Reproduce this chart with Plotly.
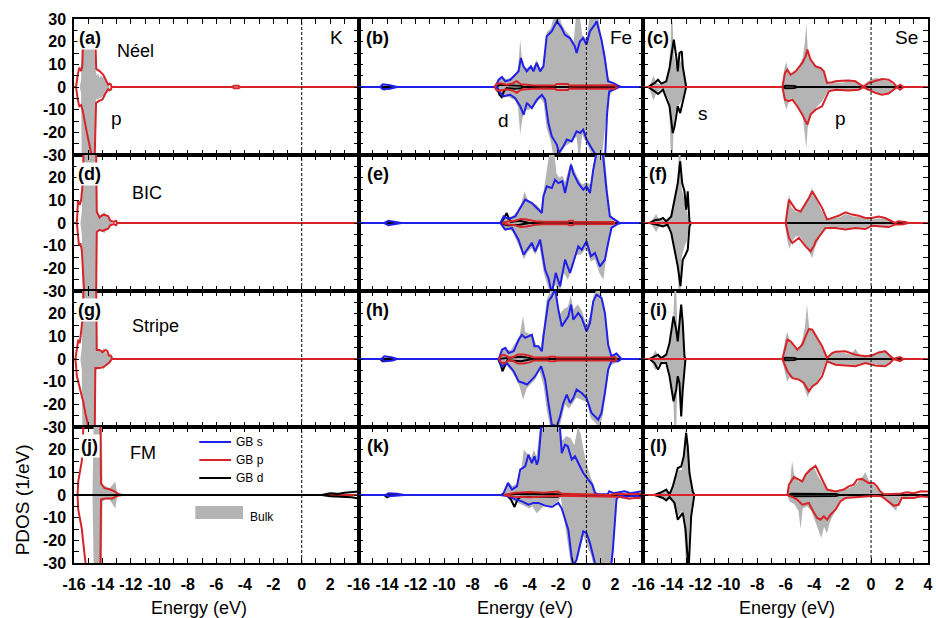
import plotly.graph_objects as go
from plotly.subplots import make_subplots

# ---------------------------------------------------------------------------
# PDOS data, (energy in eV, states/eV) pairs; spin-up positive, spin-down negative
# ---------------------------------------------------------------------------

# ---- (a) K, Neel ----
a_bulk_up = [(-16,0),(-15.6,0),(-15.5,3),(-15.45,22),(-14.6,22),(-14.5,8),(-14.4,5),(-14.3,6),(-14.2,4),(-14.1,5.5),(-14.0,4),(-13.9,5),(-13.8,3),(-13.7,2),(-13.6,1),(-13.5,0),(4,0)]
a_bulk_dn = [(-16,0),(-15.6,0),(-15.5,-3),(-15.45,-40),(-14.6,-40),(-14.5,-7),(-14.4,-5),(-14.3,-6),(-14.2,-4.5),(-14.1,-5),(-14.0,-4),(-13.9,-5),(-13.8,-3),(-13.7,-2),(-13.6,-1),(-13.5,0),(4,0)]
a_p_up = [(-16,0),(-15.86,0),(-15.72,6),(-15.63,8.5),(-15.5,7),(-15.42,9),(-15.35,22),(-14.6,22),(-14.5,22),(-14.44,8),(-14.3,7.5),(-14.2,7),(-13.95,5.5),(-13.77,3),(-13.6,1),(-13.5,1.5),(-13.42,1.2),(-13.35,0),(-4.9,0),(-4.75,0.6),(-4.45,0.6),(-4.3,0),(4,0)]
a_p_dn = [(-16,0),(-15.86,0),(-15.72,-6),(-15.63,-8.5),(-15.5,-8),(-15.4,-10),(-15.1,-20),(-14.8,-31),(-14.6,-35),(-14.55,-32),(-14.45,-7),(-14.2,-6),(-14.0,-5.5),(-13.8,-3),(-13.6,-1),(-13.5,-1.5),(-13.42,-1.2),(-13.35,0),(-4.9,0),(-4.75,-0.6),(-4.45,-0.6),(-4.3,0),(4,0)]

# ---- (d) K, BIC ----
d_bulk_up = [(-16,0),(-15.55,0),(-15.45,5),(-15.35,40),(-14.5,40),(-14.42,5),(-14.2,3),(-14.0,4),(-13.85,5),(-13.75,3),(-13.6,2),(-13.4,1),(-13.3,0),(4,0)]
d_bulk_dn = [(-16,0),(-15.55,0),(-15.45,-5),(-15.35,-40),(-14.5,-40),(-14.42,-5),(-14.2,-3),(-14.0,-4),(-13.85,-4.5),(-13.75,-3),(-13.6,-2),(-13.4,-1),(-13.3,0),(4,0)]
d_p_up = [(-16,0),(-15.8,0),(-15.72,10),(-15.6,8),(-15.5,10),(-15.4,17),(-15.3,36),(-14.45,36),(-14.4,5),(-14.2,2.5),(-14.0,3.5),(-13.8,3.5),(-13.6,3),(-13.45,1),(-13.2,0.5),(-13.05,1),(-12.95,0),(4,0)]
d_p_dn = [(-16,0),(-15.8,0),(-15.65,-10),(-15.55,-9),(-15.45,-12),(-15.35,-20),(-15.25,-35),(-14.45,-35),(-14.4,-4),(-14.2,-3),(-14.0,-3.5),(-13.8,-3),(-13.6,-2.5),(-13.45,-1),(-13.2,-0.5),(-13.05,-1),(-12.95,0),(4,0)]

# ---- (g) K, Stripe ----
g_bulk_up = [(-16,0),(-15.55,0),(-15.45,5),(-15.4,40),(-14.5,40),(-14.45,5),(-14.3,4),(-14.1,3),(-13.95,5),(-13.85,3),(-13.7,3),(-13.55,2),(-13.4,1),(-13.3,0),(4,0)]
g_bulk_dn = [(-16,0),(-15.55,0),(-15.45,-5),(-15.4,-40),(-14.5,-40),(-14.45,-5),(-14.3,-4),(-14.1,-3),(-13.95,-5),(-13.85,-3),(-13.7,-3),(-13.55,-2),(-13.4,-1),(-13.3,0),(4,0)]
g_p_up = [(-16,0),(-15.9,0),(-15.7,8.5),(-15.6,7),(-15.5,12),(-15.4,18),(-15.3,36),(-14.45,36),(-14.4,4),(-14.2,4),(-14.0,3),(-13.8,4),(-13.65,3.5),(-13.55,1.5),(-13.42,1.5),(-13.3,0),(4,0)]
g_p_dn = [(-16,0),(-15.9,0),(-15.8,-7.5),(-15.7,-10),(-15.55,-15),(-15.35,-19),(-15.2,-24),(-15.05,-28),(-14.9,-35),(-14.55,-35),(-14.5,-4),(-14.2,-4),(-13.9,-3.5),(-13.7,-2.5),(-13.5,-1.5),(-13.35,0),(4,0)]

# ---- (j) K, FM ----
j_bulk_up = [(-16,0),(-14.7,0),(-14.6,40),(-14.05,40),(-14.0,4),(-13.8,4),(-13.5,3),(-13.2,5),(-13.1,6),(-13.0,2),(-12.85,0),(4,0)]
j_bulk_dn = [(-16,0),(-14.7,0),(-14.6,-40),(-14.05,-40),(-14.0,-3),(-13.8,-2),(-13.5,-2),(-13.2,-5),(-13.1,-6),(-13.0,-2),(-12.85,0),(4,0)]
j_p_up = [(-16,0),(-15.75,0),(-15.7,6),(-15.55,11),(-15.45,15),(-15.4,22),(-15.3,35),(-14.15,35),(-14.1,5),(-13.85,3),(-13.5,2.5),(-13.15,1.6),(-12.9,0.5),(-12.6,0),(4,0)]
j_p_dn = [(-16,0),(-15.75,0),(-15.7,-6.5),(-15.55,-11),(-15.45,-15),(-15.35,-21),(-15.25,-26),(-15.1,-35),(-14.15,-35),(-14.1,-2),(-13.8,-1.5),(-13.3,-1.5),(-12.95,-0.3),(-12.6,0),(4,0)]
j_d_up = [(-16,0),(1.4,0),(2.0,0.8),(2.5,0.5),(3.0,1.0),(3.5,1.2),(4,1.5)]
j_d_dn = [(-16,0),(1.4,0),(2.0,-0.5),(3.0,-0.8),(3.5,-1.0),(4,-1.5)]

# ---- (b) Fe, Neel ----
b_bulk_up = [(-16,0),(-14.5,0),(-14.3,1),(-13.8,1),(-13.3,0),(-6.45,0),(-6.2,3),(-5.9,4),(-5.6,3.5),(-5.3,4),(-5.0,6),(-4.8,8),(-4.65,21),(-4.5,10),(-4.3,8),(-4.0,9),(-3.7,9),(-3.5,12),(-3.25,8),(-3.0,10),(-2.8,24),(-2.5,26),(-2.25,32),(-2.0,34),(-1.75,28),(-1.5,25),(-1.2,23),(-0.9,20),(-0.7,33),(-0.5,33),(-0.3,23),(0.0,21),(0.25,32),(0.5,33),(0.8,32),(1.05,22),(1.3,15),(1.55,4),(1.8,2),(2.2,0.5),(2.4,0),(4,0)]
b_bulk_dn = [(-16,0),(-14.5,0),(-14.3,-1),(-13.8,-1),(-13.3,0),(-6.45,0),(-6.2,-3),(-5.9,-4),(-5.6,-4),(-5.3,-5),(-5.0,-6),(-4.8,-9),(-4.65,-21),(-4.5,-14),(-4.3,-10),(-4.0,-10),(-3.7,-8),(-3.5,-7),(-3.25,-5),(-3.0,-7),(-2.8,-18),(-2.5,-24),(-2.25,-33),(-2.0,-33),(-1.75,-28),(-1.5,-26),(-1.2,-25),(-0.9,-23),(-0.7,-22),(-0.5,-33),(-0.3,-21),(0.0,-25),(0.25,-28),(0.5,-33),(0.8,-34),(1.05,-33),(1.3,-20),(1.55,-5),(1.8,-2),(2.2,-0.5),(2.4,0),(4,0)]
b_s_up = [(-16,0),(-14.5,0),(-14.3,1.2),(-13.8,0.8),(-13.3,0),(-6.4,0),(-6.16,3.2),(-5.93,4.4),(-5.7,2.5),(-5.35,3.2),(-5.0,5.4),(-4.77,6.9),(-4.6,12.8),(-4.42,9.1),(-4.19,6.9),(-3.9,9.1),(-3.72,6.9),(-3.49,10.6),(-3.25,6.9),(-3.02,9.1),(-2.79,22.4),(-2.67,23),(-2.44,24.5),(-2.07,29),(-1.74,26),(-1.51,23),(-1.16,21.6),(-0.81,17.9),(-0.69,15),(-0.46,20.1),(-0.23,21.6),(0.01,18.7),(0.24,24.5),(0.59,27.5),(0.72,29),(1.06,20.9),(1.29,12.8),(1.52,2.5),(1.87,1.8),(2.22,0.6),(2.46,0),(4,0)]
b_s_dn = [(-16,0),(-14.5,0),(-14.3,-1),(-13.8,-0.8),(-13.3,0),(-6.28,0),(-6.05,-2.6),(-5.81,-4.1),(-5.35,-3.4),(-5.0,-4.9),(-4.65,-8.5),(-4.41,-12.2),(-4.18,-7),(-3.83,-9.3),(-3.48,-5.6),(-3.13,-3.4),(-2.9,-5.6),(-2.67,-15.9),(-2.43,-21.8),(-2.08,-25.4),(-1.92,-29.1),(-1.62,-26.2),(-1.38,-23.2),(-1.03,-24),(-0.69,-19.6),(-0.45,-20.3),(-0.22,-18.8),(0.01,-23.2),(0.36,-26.9),(0.71,-30.6),(0.95,-33),(1.3,-33),(1.45,-12),(1.6,-2),(2.0,-1),(2.3,0),(4,0)]
b_p_up = [(-6.45,0),(-6.3,1.5),(-6.0,1.5),(-5.6,1),(-5.2,1.5),(-4.9,2.6),(-4.6,1.2),(-4.3,1),(-3.8,0.8),(-3.0,0.7),(-2.2,0.8),(-2.1,1.3),(-1.3,1.3),(-1.2,0.7),(1.0,0.7),(1.8,0.6),(2.0,0.8),(2.15,0)]
b_p_dn = [(-6.45,0),(-6.3,-1.5),(-6.0,-1.5),(-5.6,-1),(-5.2,-1.5),(-4.9,-2.6),(-4.6,-1.2),(-4.3,-1),(-3.8,-0.8),(-3.0,-0.7),(-2.2,-0.8),(-2.1,-1.3),(-1.3,-1.3),(-1.2,-0.7),(1.0,-0.7),(1.8,-0.6),(2.0,-0.8),(2.15,0)]
b_d_up = [(-16,0),(-6.3,0),(-6.1,1),(-5.0,0.8),(-4.6,0.5),(-4.4,0),(4,0)]
b_d_dn = [(-16,0),(-14.4,0),(-14.2,-1),(-13.9,0),(-6.3,0),(-6.1,-3.5),(-5.95,-4.5),(-5.8,-2),(-5.6,-0.5),(-5.0,-0.8),(-4.6,-0.5),(-4.4,0),(4,0)]

# ---- (e) Fe, BIC ----
e_bulk_up = [(-16,0),(-14.2,0),(-14.0,1),(-13.4,0.8),(-13.1,0),(-6.1,0),(-5.8,3),(-5.5,2.5),(-5.2,3),(-4.9,5),(-4.6,8),(-4.35,14),(-4.1,10),(-3.8,9),(-3.5,8),(-3.2,6),(-3.0,14),(-2.8,20),(-2.55,33),(-2.3,33),(-2.1,22),(-1.9,20),(-1.7,21),(-1.5,18),(-1.3,23),(-1.1,27),(-0.9,24),(-0.6,20),(-0.3,17),(0.0,18),(0.3,17),(0.5,26),(0.75,33),(1.0,34),(1.25,32),(1.45,18),(1.65,4),(2.0,1.5),(2.4,0),(4,0)]
e_bulk_dn = [(-16,0),(-14.2,0),(-14.0,-1),(-13.4,-0.8),(-13.1,0),(-6.1,0),(-5.8,-3),(-5.5,-3),(-5.2,-3.5),(-4.9,-8),(-4.6,-12),(-4.4,-16),(-4.15,-13),(-3.85,-11),(-3.6,-14),(-3.3,-10),(-3.0,-22),(-2.75,-27),(-2.5,-33),(-2.2,-27),(-1.9,-32),(-1.6,-22),(-1.3,-25),(-1.0,-20),(-0.7,-14),(-0.4,-14),(0.0,-11),(0.3,-17),(0.6,-16),(0.9,-22),(1.2,-25),(1.45,-12),(1.7,-3),(2.0,-1),(2.4,0),(4,0)]
e_s_up = [(-16,0),(-14.2,0),(-13.9,1),(-13.4,0.6),(-13.0,0),(-6.05,0),(-5.81,2.9),(-5.46,1.8),(-5.0,2.9),(-4.65,6.6),(-4.3,10.3),(-3.83,8.8),(-3.48,6.6),(-3.13,4.4),(-3.02,11.8),(-2.78,16.2),(-2.43,15.4),(-2.2,19.1),(-1.97,17.6),(-1.69,18.4),(-1.5,13.2),(-1.27,20.6),(-1.08,25.7),(-0.92,22),(-0.57,17.6),(-0.22,14.7),(0.01,16.2),(0.25,13.2),(0.48,23.5),(0.71,30.9),(0.95,33),(1.18,29.4),(1.41,14.7),(1.65,2.9),(2.0,1.5),(2.35,0),(4,0)]
e_s_dn = [(-16,0),(-14.2,0),(-13.9,-1),(-13.4,-0.6),(-13.0,0),(-6.05,0),(-5.7,-2.9),(-5.23,-2.2),(-4.77,-7.4),(-4.42,-14),(-4.18,-11.8),(-3.83,-8.8),(-3.6,-12.5),(-3.25,-7.4),(-2.9,-20.6),(-2.67,-24.3),(-2.43,-31),(-2.15,-22),(-1.85,-27.9),(-1.5,-16.2),(-1.15,-22),(-0.92,-16.9),(-0.57,-10.3),(-0.33,-11.8),(0.01,-8.1),(0.32,-14.7),(0.6,-13.2),(0.95,-19.1),(1.3,-16.2),(1.53,-8.8),(1.76,-2.2),(2.23,-0.3),(2.46,0),(4,0)]
e_p_up = [(-5.9,0),(-5.6,0.6),(-5.0,1),(-4.6,1.8),(-4.2,1.5),(-3.6,0.8),(-3.0,0.6),(-1.3,0.6),(-1.2,1),(-0.95,1),(-0.9,0.6),(1.7,0.6),(1.9,0.4),(2.0,0)]
e_p_dn = [(-5.9,0),(-5.6,-0.6),(-5.0,-1),(-4.6,-1.8),(-4.2,-1.5),(-3.6,-0.8),(-3.0,-0.6),(-1.3,-0.6),(-1.2,-1),(-0.95,-1),(-0.9,-0.6),(1.7,-0.6),(1.9,-0.4),(2.0,0)]
e_d_up = [(-16,0),(-6.0,0),(-5.8,2),(-5.6,4.4),(-5.45,2),(-5.3,0.5),(-4.7,1),(-4.2,0.5),(-4.0,0),(4,0)]
e_d_dn = [(-16,0),(-6.0,0),(-5.6,-1),(-4.7,-0.8),(-4.0,0),(4,0)]

# ---- (h) Fe, Stripe ----
h_bulk_up = [(-16,0),(-14.3,0),(-14.1,1),(-13.6,0.8),(-13.2,0),(-6.2,0),(-5.9,5),(-5.6,4),(-5.3,4),(-5.0,7),(-4.7,10),(-4.45,19),(-4.3,12),(-4.0,11),(-3.75,10),(-3.5,6),(-3.2,5),(-3.0,14),(-2.8,26),(-2.55,30),(-2.3,34),(-2.1,25),(-1.85,20),(-1.6,22),(-1.3,23),(-1.1,28),(-0.9,22),(-0.6,24),(-0.3,21),(0.0,15),(0.25,19),(0.5,28),(0.75,31),(1.0,30),(1.25,24),(1.45,10),(1.7,2),(2.1,2),(2.4,0),(4,0)]
h_bulk_dn = [(-16,0),(-14.3,0),(-14.1,-1),(-13.6,-0.8),(-13.2,0),(-6.2,0),(-5.9,-4),(-5.6,-3),(-5.3,-5),(-5.0,-8),(-4.7,-12),(-4.45,-18),(-4.2,-13),(-3.9,-11),(-3.6,-9),(-3.3,-5),(-3.0,-12),(-2.8,-22),(-2.55,-30),(-2.3,-34),(-2.0,-33),(-1.75,-26),(-1.5,-20),(-1.25,-22),(-1.0,-20),(-0.7,-17),(-0.4,-18),(0.0,-19),(0.3,-26),(0.6,-28),(0.9,-30),(1.15,-25),(1.4,-12),(1.65,-3),(2.1,-1.5),(2.4,0),(4,0)]
h_s_up = [(-16,0),(-14.4,0),(-14.2,1.2),(-13.7,0.8),(-13.3,0),(-6.16,0),(-5.93,4.1),(-5.7,4.9),(-5.46,2.6),(-5.11,3.4),(-4.76,8.5),(-4.53,10.7),(-4.3,9.3),(-4.07,10),(-3.83,10.7),(-3.65,5.6),(-3.37,5.6),(-3.13,3.4),(-3.02,10),(-2.67,25.4),(-2.43,27.6),(-2.2,31),(-1.97,21.8),(-1.73,14.4),(-1.5,16.6),(-1.27,18.8),(-1.08,24),(-0.92,17.4),(-0.57,20.3),(-0.33,18.1),(0.01,12.2),(0.25,15.9),(0.48,25.4),(0.71,28.4),(1.06,26.9),(1.3,20.3),(1.53,6.3),(1.76,1.2),(2.11,2.4),(2.46,0),(4,0)]
h_s_dn = [(-16,0),(-14.4,0),(-14.2,-1),(-13.7,-0.8),(-13.3,0),(-6.16,0),(-5.93,-3.2),(-5.58,-1.8),(-5.11,-5.4),(-4.76,-9.9),(-4.41,-10.6),(-4.18,-11.3),(-3.83,-9.1),(-3.6,-7.6),(-3.18,-3.2),(-2.9,-9.1),(-2.67,-19.4),(-2.43,-29),(-2.08,-29.7),(-1.85,-25.3),(-1.62,-19.4),(-1.38,-15.7),(-1.15,-19.4),(-0.92,-17.2),(-0.69,-13.5),(-0.33,-15),(0.01,-17.2),(0.36,-23.8),(0.83,-26.8),(1.06,-23.8),(1.3,-15),(1.53,-4.7),(1.76,-1),(2.23,-1),(2.46,0),(4,0)]
h_p_up = [(-6.15,0),(-6.0,1.5),(-5.8,1.8),(-5.6,1.3),(-5.45,0.5),(-5.1,1),(-4.8,2),(-4.4,2),(-4.0,1.5),(-3.7,0.7),(-2.7,0.7),(-2.6,1),(-2.2,1),(-2.1,0.7),(1.8,0.7),(2.0,0.9),(2.15,0)]
h_p_dn = [(-6.15,0),(-6.0,-1.5),(-5.8,-1.8),(-5.6,-1.3),(-5.45,-0.5),(-5.1,-1),(-4.8,-2),(-4.4,-2),(-4.0,-1.5),(-3.7,-0.7),(-2.7,-0.7),(-2.6,-1),(-2.2,-1),(-2.1,-0.7),(1.8,-0.7),(2.0,-0.9),(2.15,0)]
h_d_up = [(-16,0),(-6.2,0),(-5.5,0.5),(-4.6,1),(-4.0,0.5),(-3.8,0),(4,0)]
h_d_dn = [(-16,0),(-14.5,0),(-14.3,-1),(-14.0,0),(-6.2,0),(-6.0,-3),(-5.9,-5.4),(-5.75,-3),(-5.55,-0.5),(-4.6,-1),(-4.0,-0.5),(-3.8,0),(4,0)]

# ---- (k) Fe, FM ----
k_bulk_up = [(-16,0),(-14.1,0),(-13.9,0.8),(-13.3,0.6),(-13.0,0),(-5.8,0),(-5.5,6),(-5.2,4),(-4.9,5),(-4.6,10),(-4.4,20),(-4.1,18),(-3.9,16),(-3.7,20),(-3.5,17),(-3.3,28),(-3.1,33),(-2.0,33),(-1.7,24),(-1.4,26),(-1.1,25),(-0.85,22),(-0.6,30),(-0.4,27),(-0.2,20),(0.0,14),(0.3,8),(0.55,3),(0.75,0),(4,0)]
k_bulk_dn = [(-16,0),(-14.1,0),(-13.9,-0.8),(-13.3,-0.6),(-13.0,0),(-5.8,0),(-5.4,-2),(-5.0,-3),(-4.6,-4),(-4.3,-5),(-4.0,-6),(-3.8,-5),(-3.5,-8),(-3.3,-7),(-3.0,-5),(-2.5,-5),(-2.0,-3),(-1.8,-1),(-1.7,-4),(-1.5,-14),(-1.3,-22),(-1.1,-30),(-0.8,-33),(-0.5,-25),(-0.2,-18),(0.0,-22),(0.3,-26),(0.6,-33),(1.8,-33),(1.95,-20),(2.05,-2),(2.2,0),(4,0)]
k_s_up = [(-16,0),(-14.1,0),(-13.9,0.8),(-13.3,0.6),(-12.8,0),(-6.0,0),(-5.81,0.9),(-5.51,5.3),(-5.23,2.4),(-4.88,3.8),(-4.65,11.2),(-4.3,12.6),(-4.07,17.8),(-3.83,14.1),(-3.65,17.1),(-3.48,13.4),(-3.37,15.6),(-3.18,29.6),(-3.02,30.3),(-2.8,32),(-2.67,34),(-2.5,31),(-2.2,30.8),(-2.0,34),(-1.9,33),(-1.73,18.5),(-1.5,22.2),(-1.31,21.5),(-1.03,15.6),(-0.8,17.1),(-0.57,14.1),(-0.22,9.7),(0.13,6.8),(0.41,4.6),(0.6,0.9),(0.83,0.3),(1.5,0.3),(1.6,1.6),(1.9,0.8),(2.7,1.6),(3.1,0.8),(3.86,1.6),(4,1.0)]
k_s_dn = [(-16,0),(-14.1,0),(-13.9,-0.5),(-13.3,-0.4),(-12.8,0),(-6.07,0),(-5.46,-0.6),(-5.0,-1.8),(-4.53,-2.8),(-4.07,-4.3),(-3.72,-3.5),(-3.37,-3.5),(-2.9,-4.7),(-2.43,-5.3),(-1.97,-3.5),(-1.73,-6),(-1.5,-10.9),(-1.27,-15.3),(-1.03,-27.8),(-0.9,-31),(-0.69,-28.5),(-0.45,-22.6),(-0.22,-16),(0.01,-16.8),(0.25,-21.2),(0.6,-30),(0.75,-33),(1.7,-33),(1.85,-25),(2.0,-12),(2.11,-2),(2.3,-0.3),(2.8,-0.8),(3.4,-0.3),(4,-0.5)]
k_p_up = [(-5.8,0),(-5.0,1),(-4.0,1.3),(-3.0,1),(-2.0,1.5),(-1.7,0.5),(0.0,0.3),(1.6,0),(2.2,0.5),(2.8,0.3),(4,0.5)]
k_p_dn = [(-5.8,0),(-5.0,-0.8),(-4.0,-1),(-3.0,-0.6),(-2.0,-0.3),(0.0,-0.5),(1.6,-0.5),(2.3,-0.8),(3.0,-1.7),(3.5,-1.2),(4,-1.5)]
k_d_up = [(-16,0),(-5.8,0),(-5.0,0.5),(-3.0,0.5),(-2.0,0.3),(-1.8,0),(4,0)]
k_d_dn = [(-16,0),(-14.2,0),(-14.0,-1),(-13.7,0),(-5.6,0),(-5.3,-2),(-5.05,-5.3),(-4.85,-2),(-4.6,-0.8),(-2.0,-0.8),(-1.8,0),(4,0)]

# ---- (c) Se, Neel ----
c_bulk_up = [(-16,0),(-15.6,0),(-15.4,3),(-15.3,5),(-15.1,2),(-14.8,1),(-14.5,2),(-14.2,6),(-14.05,29),(-13.95,29),(-13.85,14),(-13.7,9),(-13.5,10),(-13.3,12),(-13.1,5),(-12.95,0),(-6.25,0),(-6.1,8),(-5.95,11),(-5.8,7),(-5.6,5),(-5.3,7),(-5.0,10),(-4.8,13),(-4.65,20),(-4.55,28),(-4.45,17),(-4.3,13),(-4.0,10),(-3.7,9),(-3.4,7),(-3.15,3),(-3.0,1.5),(-2.5,2),(-2.0,2),(-1.5,2.5),(-1.0,2),(-0.6,1),(-0.3,2),(0.0,3.5),(0.4,4),(0.8,3),(1.3,2.5),(1.6,1),(1.8,0),(2.0,0.5),(2.2,0),(4,0)]
c_bulk_dn = [(-16,0),(-15.6,0),(-15.4,-4),(-15.3,-6),(-15.1,-3),(-14.8,-1),(-14.5,-2),(-14.2,-6),(-14.05,-33),(-13.95,-33),(-13.85,-15),(-13.7,-10),(-13.5,-8),(-13.3,-6),(-13.1,-2),(-12.95,0),(-6.25,0),(-6.1,-7),(-5.95,-10),(-5.8,-7),(-5.6,-5),(-5.3,-7),(-5.0,-10),(-4.8,-13),(-4.65,-20),(-4.55,-27),(-4.45,-18),(-4.3,-13),(-4.0,-10),(-3.7,-8),(-3.4,-6),(-3.15,-3),(-3.0,-1.5),(-2.5,-1),(-2.0,-1.5),(-1.5,-1.5),(-1.0,-1.5),(-0.6,-0.5),(-0.3,-1.5),(0.0,-2),(0.4,-3),(0.8,-3),(1.3,-2.5),(1.6,-1),(1.8,0),(2.2,0),(4,0)]
c_s_up = [(-16,0),(-15.67,0),(-15.2,1.8),(-14.97,3.2),(-14.74,1.5),(-14.39,2.5),(-14.16,8.4),(-13.97,16.5),(-13.86,20.9),(-13.69,13.5),(-13.58,6.9),(-13.46,15),(-13.3,15.7),(-13.23,9.1),(-13.04,1.8),(-12.99,0),(-6.2,0),(-6.0,0.6),(-5.4,0.5),(-5.2,0),(4,0)]
c_s_dn = [(-16,0),(-15.67,0),(-15.2,-1.9),(-14.97,-3.1),(-14.62,-1.2),(-14.16,-8.5),(-13.93,-20.3),(-13.81,-17.4),(-13.69,-12.9),(-13.58,-8.5),(-13.41,-11.5),(-13.23,-7),(-13.04,-1.9),(-12.99,0),(-6.2,0),(-6.0,-0.6),(-5.4,-0.5),(-5.2,0),(4,0)]
c_p_up = [(-16,0),(-6.23,0),(-6.05,6.2),(-5.88,7.6),(-5.65,5.4),(-5.3,6.9),(-4.83,10.6),(-4.6,13.5),(-4.48,16.5),(-4.25,12.1),(-3.9,9.1),(-3.55,8.4),(-3.32,6.9),(-3.09,1.8),(-2.74,2.1),(-2.5,2.5),(-2.04,2.8),(-1.57,2.9),(-1.1,2.5),(-0.76,1),(-0.52,0),(-0.17,1.8),(0.29,2.5),(0.76,3.5),(1.23,3.2),(1.58,1.8),(1.81,0),(2.04,1),(2.28,0),(4,0)]
c_p_dn = [(-16,0),(-6.23,0),(-6.05,-5.6),(-5.77,-6.3),(-5.53,-5.6),(-5.18,-8.5),(-4.83,-12.2),(-4.48,-16.6),(-4.25,-12.2),(-3.9,-10),(-3.44,-8.5),(-3.09,-4.1),(-2.97,-1.9),(-2.5,-1.2),(-1.57,-1.5),(-0.87,-1.2),(-0.52,0),(-0.17,-1.2),(0.29,-2.6),(0.76,-3.4),(1.23,-2.9),(1.58,-1.2),(1.81,0),(2.04,-1.2),(2.28,0),(4,0)]

# ---- (f) Se, BIC ----
f_bulk_up = [(-16,0),(-15.5,0),(-15.3,2),(-15.1,4),(-14.9,1.5),(-14.5,1),(-14.1,3),(-13.85,10),(-13.6,18),(-13.5,33),(-13.4,33),(-13.3,15),(-13.1,10),(-12.95,6),(-12.8,1),(-12.7,0),(-6.05,0),(-5.9,8),(-5.75,12.5),(-5.6,7),(-5.3,5),(-5.0,5),(-4.7,8),(-4.4,11),(-4.15,15.5),(-3.9,11),(-3.6,7),(-3.3,3),(-3.1,1),(-2.7,2),(-2.2,2.5),(-1.8,4),(-1.3,3),(-0.8,2.5),(-0.4,2),(0.0,1.5),(0.5,2),(1.0,2),(1.4,1),(1.7,0.5),(2.5,0),(4,0)]
f_bulk_dn = [(-16,0),(-15.5,0),(-15.3,-2),(-15.1,-4),(-14.9,-1.5),(-14.5,-1),(-14.1,-3),(-13.85,-10),(-13.6,-18),(-13.5,-33),(-13.4,-33),(-13.3,-15),(-13.1,-10),(-12.95,-8),(-12.8,-1),(-12.7,0),(-6.05,0),(-5.9,-7),(-5.75,-11.5),(-5.55,-8),(-5.3,-6),(-5.0,-6),(-4.7,-9),(-4.4,-12),(-4.15,-15.5),(-3.9,-10),(-3.6,-6),(-3.3,-2.5),(-3.1,-1.5),(-2.7,-2),(-2.2,-2),(-1.8,-2.5),(-1.3,-2),(-0.8,-2),(-0.4,-2),(0.0,-1),(0.5,-1.5),(1.0,-1.5),(1.4,-1),(1.7,-0.5),(2.5,0),(4,0)]
f_s_up = [(-16,0),(-15.56,0),(-15.21,1.2),(-14.86,1.5),(-14.62,2.2),(-14.39,0.7),(-14.04,2.9),(-13.81,10.3),(-13.58,17.6),(-13.41,27.2),(-13.27,17.6),(-13.11,14),(-12.99,5.9),(-12.88,14),(-12.76,0.7),(-12.65,0),(4,0)]
f_s_dn = [(-16,0),(-15.56,0),(-15.1,-0.7),(-14.62,-1.5),(-14.3,-0.7),(-14.04,-4.4),(-13.81,-11.8),(-13.58,-19.1),(-13.39,-27.9),(-13.23,-16.2),(-13.04,-14),(-12.88,-11.8),(-12.76,-1.5),(-12.65,0),(4,0)]
f_p_up = [(-16,0),(-6.0,0),(-5.77,10.3),(-5.53,8.1),(-5.3,5.9),(-4.95,5.1),(-4.72,7.4),(-4.37,11),(-4.13,14),(-3.79,10.3),(-3.44,6.6),(-3.09,1.5),(-2.74,2.2),(-2.27,3.2),(-1.8,4.7),(-1.34,3.7),(-0.87,3.2),(-0.4,2.2),(0.06,2.2),(0.53,2.9),(0.99,2.2),(1.34,1.2),(1.69,0),(1.9,0.8),(2.16,0.7),(2.4,0.4),(2.62,0),(4,0)]
f_p_dn = [(-16,0),(-6.0,0),(-5.77,-6.6),(-5.53,-8.8),(-5.07,-6.6),(-4.6,-10.3),(-4.25,-12.5),(-4.0,-10),(-3.9,-8.1),(-3.55,-5.1),(-3.2,-2.2),(-2.5,-2.2),(-1.8,-2.9),(-1.1,-2.2),(-0.4,-2.6),(0.06,-1.2),(0.76,-1.5),(1.23,-1.8),(1.69,-0.7),(2.16,-0.7),(2.62,0),(4,0)]

# ---- (i) Se, Stripe ----
i_bulk_up = [(-16,0),(-15.5,0),(-15.3,2),(-15.15,4),(-15.0,2),(-14.6,1),(-14.3,2),(-14.1,8),(-13.9,18),(-13.8,33),(-13.7,33),(-13.6,10),(-13.45,15),(-13.35,22),(-13.2,12),(-13.1,2),(-13.0,0),(-6.25,0),(-6.05,8),(-5.9,12),(-5.7,8),(-5.4,5),(-5.1,4),(-4.85,8),(-4.65,14),(-4.5,24),(-4.35,14),(-4.1,13),(-3.8,9),(-3.5,5),(-3.15,1),(-2.8,2.5),(-2.3,3),(-1.8,2.5),(-1.4,2),(-1.1,4.5),(-0.8,1.5),(-0.4,1.5),(0.0,2),(0.5,3),(1.0,4),(1.3,2),(1.6,0.5),(2.0,0.5),(2.4,0),(4,0)]
i_bulk_dn = [(-16,0),(-15.5,0),(-15.3,-3),(-15.15,-5),(-15.0,-3),(-14.6,-1),(-14.3,-2),(-14.1,-8),(-13.9,-18),(-13.8,-33),(-13.7,-33),(-13.6,-9),(-13.45,-12),(-13.35,-24),(-13.2,-12),(-13.1,-2),(-13.0,0),(-6.25,0),(-6.05,-6),(-5.9,-10),(-5.7,-8),(-5.4,-8),(-5.1,-9),(-4.85,-10),(-4.6,-14),(-4.45,-17),(-4.3,-14),(-4.1,-12),(-3.8,-10),(-3.5,-7),(-3.15,-1),(-2.8,-2),(-2.3,-2.5),(-1.8,-2.5),(-1.4,-2.5),(-1.1,-3),(-0.8,-2),(-0.4,-2),(0.0,-2),(0.5,-2.5),(1.0,-3),(1.3,-2),(1.6,-0.5),(2.4,0),(4,0)]
i_s_up = [(-16,0),(-15.56,0),(-15.21,1.2),(-14.97,1.9),(-14.74,0.4),(-14.39,1.9),(-14.16,7.1),(-13.88,18.8),(-13.69,12.9),(-13.58,7.8),(-13.46,15.9),(-13.34,24),(-13.23,15.9),(-13.11,1.2),(-13.04,0),(-6.2,0),(-6.0,0.6),(-5.4,0.5),(-5.2,0),(4,0)]
i_s_dn = [(-16,0),(-15.56,0),(-15.21,-1.8),(-14.97,-4.7),(-14.74,-1.8),(-14.39,-1.8),(-14.16,-7.6),(-13.88,-18.7),(-13.69,-13.5),(-13.58,-7.6),(-13.46,-10.6),(-13.34,-25.3),(-13.23,-13.5),(-13.11,-1.8),(-13.04,0),(-6.2,0),(-6.0,-0.6),(-5.4,-0.5),(-5.2,0),(4,0)]
i_p_up = [(-16,0),(-6.23,0),(-5.88,8.5),(-5.65,7.8),(-5.18,4.1),(-4.83,6.3),(-4.6,10),(-4.37,13.2),(-4.13,12.9),(-3.79,9.3),(-3.44,5.6),(-3.09,0.4),(-2.74,2.6),(-2.5,3.2),(-1.8,3.4),(-1.1,1.9),(-0.4,1.2),(0.06,1.5),(0.53,2.9),(0.99,3.4),(1.34,1.2),(1.58,0),(1.8,0.5),(2.04,0.9),(2.28,0),(4,0)]
i_p_dn = [(-16,0),(-6.23,0),(-5.88,-5.4),(-5.53,-8.4),(-5.07,-9.1),(-4.72,-10.6),(-4.37,-14.3),(-4.13,-12.1),(-3.79,-10.6),(-3.44,-7.6),(-3.09,-1),(-2.5,-2.5),(-1.8,-2.9),(-1.1,-3.2),(-0.4,-1.8),(0.29,-2.9),(0.99,-3.2),(1.34,-1.8),(1.58,0),(2.04,-0.9),(2.28,0),(4,0)]

# ---- (l) Se, FM ----
l_bulk_up = [(-16,0),(-15.2,0),(-14.8,1),(-14.5,2),(-14.2,1.5),(-13.95,3),(-13.7,8),(-13.5,11),(-13.3,11),(-13.15,18),(-13.05,30),(-12.95,25),(-12.8,12),(-12.65,4),(-12.5,0),(-5.9,0),(-5.7,5),(-5.55,15),(-5.4,9),(-5.1,6),(-4.8,7),(-4.55,10),(-4.3,12),(-4.0,12),(-3.7,8),(-3.4,5),(-3.1,2.5),(-2.6,2),(-2.0,2),(-1.6,3),(-1.2,4),(-0.9,6),(-0.6,8),(-0.4,10),(-0.2,7),(0.1,5),(0.4,3),(0.7,1),(1.0,0.5),(4,0.5)]
l_bulk_dn = [(-16,0),(-15.2,0),(-14.8,-1),(-14.5,-2),(-14.2,-1.5),(-13.95,-3),(-13.7,-8),(-13.5,-9),(-13.3,-7),(-13.15,-12),(-13.0,-32),(-12.9,-33),(-12.75,-12),(-12.6,-5),(-12.45,0),(-5.9,0),(-5.7,-3),(-5.4,-4),(-5.1,-7),(-4.95,-15),(-4.8,-6),(-4.5,-5),(-4.2,-7),(-3.9,-12),(-3.65,-16),(-3.5,-19),(-3.3,-14),(-3.1,-17),(-2.9,-12),(-2.6,-8),(-2.3,-4),(-2.0,-2),(-1.5,-1),(-1.0,-1),(-0.5,-0.5),(0.0,-0.5),(0.5,-0.5),(1.0,-2),(1.3,-4),(1.6,-6),(1.75,-7),(1.9,-4),(2.1,-1),(4,-0.5)]
l_s_up = [(-16,0),(-15.21,0),(-14.74,1.2),(-14.39,2.4),(-14.16,0.2),(-13.93,3.8),(-13.58,11.9),(-13.34,12.6),(-13.16,17.1),(-12.99,27.4),(-12.88,21.5),(-12.76,9.7),(-12.53,1.6),(-12.42,0),(-5.8,0),(-5.6,0.5),(-2.5,0.4),(-2.2,0),(4,0)]
l_s_dn = [(-16,0),(-15.21,0),(-14.62,-1.3),(-14.39,-2.4),(-14.16,-0.9),(-13.81,-3.5),(-13.58,-10.9),(-13.23,-7.9),(-13.04,-15),(-12.92,-28.5),(-12.82,-33),(-12.64,-9.4),(-12.48,-2),(-12.42,0),(-5.8,0),(-5.6,-0.5),(-2.5,-0.4),(-2.2,0),(4,0)]
l_p_up = [(-16,0),(-5.88,0),(-5.77,4.6),(-5.42,7.9),(-5.07,6.8),(-4.83,6),(-4.6,9),(-4.25,11.2),(-3.9,12.9),(-3.67,9.7),(-3.32,5.3),(-3.09,2.4),(-2.5,1.6),(-1.92,2.4),(-1.57,3.8),(-1.22,4.6),(-0.99,6.8),(-0.64,7.1),(-0.17,5.3),(0.18,5.3),(0.41,3.8),(0.64,1.6),(0.9,0.3),(2.0,0.5),(2.5,1.2),(3.0,0.8),(3.5,1.6),(4,1.5)]
l_p_dn = [(-16,0),(-5.88,0),(-5.5,-0.9),(-5.2,-2),(-4.83,-4.3),(-4.37,-3.5),(-4.13,-6.5),(-3.79,-10.1),(-3.55,-10.9),(-3.32,-9.4),(-3.09,-10.9),(-2.85,-8.7),(-2.5,-6.5),(-2.15,-2.8),(-1.8,-1.3),(-0.64,-0.9),(0.29,-0.3),(0.76,-0.6),(1.23,-2.8),(1.58,-4.7),(1.93,-4.3),(2.16,-1.3),(3.0,-1.3),(3.5,-0.6),(4,-0.9)]

# axis ticks
x_ticks = [-16, -14, -12, -10, -8, -6, -4, -2, 0, 2, 4]
y_ticks = [-30, -20, -10, 0, 10, 20, 30]

panel_letters = [["(a)", "(b)", "(c)"], ["(d)", "(e)", "(f)"],
                 ["(g)", "(h)", "(i)"], ["(j)", "(k)", "(l)"]]
orders = ["N\u00e9el", "BIC", "Stripe", "FM"]
elements = ["K", "Fe", "Se"]
legend_names = ["GB s", "GB p", "GB d"]
bulk_name = "Bulk"

# ---------------------------------------------------------------------------
BLUE = "rgb(32,32,232)"
RED = "rgb(214,36,40)"
BLACK = "rgb(0,0,0)"
GRAY = "rgb(180,180,180)"
FONT = "Liberation Sans, Arial, Helvetica, sans-serif"

W, H = 936, 618
ML, MR, MT, MB = 74, 3, 19, 55
PW = (W - ML - MR) / 3.0
PH = (H - MT - MB) / 4.0

panels = {
    (1, 1): (a_bulk_up, a_bulk_dn, [(a_p_up, a_p_dn, RED)]),
    (2, 1): (d_bulk_up, d_bulk_dn, [(d_p_up, d_p_dn, RED)]),
    (3, 1): (g_bulk_up, g_bulk_dn, [(g_p_up, g_p_dn, RED)]),
    (4, 1): (j_bulk_up, j_bulk_dn, [(j_p_up, j_p_dn, RED), (j_d_up, j_d_dn, BLACK)]),
    (1, 2): (b_bulk_up, b_bulk_dn, [(b_d_up, b_d_dn, BLACK), (b_s_up, b_s_dn, BLUE), (b_p_up, b_p_dn, RED)]),
    (2, 2): (e_bulk_up, e_bulk_dn, [(e_d_up, e_d_dn, BLACK), (e_s_up, e_s_dn, BLUE), (e_p_up, e_p_dn, RED)]),
    (3, 2): (h_bulk_up, h_bulk_dn, [(h_d_up, h_d_dn, BLACK), (h_s_up, h_s_dn, BLUE), (h_p_up, h_p_dn, RED)]),
    (4, 2): (k_bulk_up, k_bulk_dn, [(k_d_up, k_d_dn, BLACK), (k_s_up, k_s_dn, BLUE), (k_p_up, k_p_dn, RED)]),
    (1, 3): (c_bulk_up, c_bulk_dn, [(c_s_up, c_s_dn, BLACK), (c_p_up, c_p_dn, RED)]),
    (2, 3): (f_bulk_up, f_bulk_dn, [(f_s_up, f_s_dn, BLACK), (f_p_up, f_p_dn, RED)]),
    (3, 3): (i_bulk_up, i_bulk_dn, [(i_s_up, i_s_dn, BLACK), (i_p_up, i_p_dn, RED)]),
    (4, 3): (l_bulk_up, l_bulk_dn, [(l_s_up, l_s_dn, BLACK), (l_p_up, l_p_dn, RED)]),
}


def xy(pairs):
    return [p[0] for p in pairs], [p[1] for p in pairs]


fig = make_subplots(rows=4, cols=3, horizontal_spacing=0, vertical_spacing=0)

for (r, c), (bulk_up, bulk_dn, curves) in panels.items():
    ux, uy = xy(bulk_up)
    dx, dy = xy(bulk_dn)
    fig.add_trace(go.Scatter(x=ux + dx[::-1], y=uy + dy[::-1], mode="lines",
                             fill="toself", fillcolor=GRAY, line=dict(width=0, color=GRAY),
                             hoverinfo="skip", showlegend=False), row=r, col=c)
    for up, dn, color in curves:
        for pairs in (up, dn):
            px, py = xy(pairs)
            fig.add_trace(go.Scatter(x=px, y=py, mode="lines",
                                     line=dict(color=color, width=2),
                                     hoverinfo="skip", showlegend=False), row=r, col=c)
    fig.add_vline(x=0, row=r, col=c, line=dict(color="black", width=1, dash="3px,2px"))

tick_font = dict(family=FONT, size=16, color="black", weight="bold")
for r in range(1, 5):
    for c in range(1, 4):
        if r == 4:
            xt = [str(v) if (c == 3 or v < 4) else "" for v in x_ticks]
        else:
            xt = ["" for v in x_ticks]
        if c == 1:
            yt = [str(v) if (r == 1 or v < 30) else "" for v in y_ticks]
        else:
            yt = ["" for v in y_ticks]
        fig.update_xaxes(range=[-16, 4], tickmode="array", tickvals=x_ticks, ticktext=xt,
                         ticks="inside", ticklen=5, tickwidth=1, tickcolor="black",
                         minor=dict(tickmode="linear", tick0=0, dtick=1, ticks="inside",
                                    ticklen=5, tickwidth=1, tickcolor="black"),
                         showline=True, linecolor="black", linewidth=1.5, mirror="ticks",
                         showgrid=False, zeroline=False, tickfont=tick_font,
                         ticklabelstandoff=6, row=r, col=c)
        fig.update_yaxes(range=[-30, 30], tickmode="array", tickvals=y_ticks, ticktext=yt,
                         ticks="inside", ticklen=5, tickwidth=1, tickcolor="black",
                         minor=dict(tickmode="linear", tick0=0, dtick=5, ticks="inside",
                                    ticklen=5, tickwidth=1, tickcolor="black"),
                         showline=True, linecolor="black", linewidth=1.5, mirror="ticks",
                         showgrid=False, zeroline=False, tickfont=tick_font,
                         ticklabelstandoff=3, row=r, col=c)


def aref(r, c):
    n = (r - 1) * 3 + c
    s = "" if n == 1 else str(n)
    return "x" + s + " domain", "y" + s + " domain"


ann = []
label_dx = {1: 16, 2: 19, 3: 15}
for r in range(1, 5):
    for c in range(1, 4):
        xr, yr = aref(r, c)
        ann.append(dict(xref=xr, yref=yr, x=label_dx[c] / PW, y=1 - 19 / PH,
                        text=panel_letters[r - 1][c - 1], showarrow=False,
                        xanchor="center", yanchor="middle", bgcolor="white", borderpad=1,
                        font=dict(family=FONT, size=18, color="black", weight="bold")))

# magnetic order names in the K column
order_pos = [(41, 32), (56, 38), (56, 35), (54, 26)]
for r in range(1, 5):
    xr, yr = aref(r, 1)
    ox, oy = order_pos[r - 1]
    ann.append(dict(xref=xr, yref=yr, x=ox / PW, y=1 - oy / PH, text=orders[r - 1],
                    showarrow=False, xanchor="left", yanchor="middle",
                    font=dict(family=FONT, size=18, color="black")))

# element names in the top row
elem_dx = [14, 9, 8]
for c in range(1, 4):
    xr, yr = aref(1, c)
    ann.append(dict(xref=xr, yref=yr, x=1 - elem_dx[c - 1] / PW, y=1 - 18 / PH,
                    text=elements[c - 1], showarrow=False, xanchor="right", yanchor="middle",
                    font=dict(family=FONT, size=19, color="black")))

# orbital tags
for (r, c, txt, ox, oy) in [(1, 1, "p", 43, 99), (1, 2, "d", 146, 101),
                            (1, 3, "s", 60, 94), (1, 3, "p", 198, 99)]:
    xr, yr = aref(r, c)
    ann.append(dict(xref=xr, yref=yr, x=ox / PW, y=1 - oy / PH, text=txt,
                    showarrow=False, xanchor="center", yanchor="middle",
                    font=dict(family=FONT, size=19, color="black")))

# axis titles
for c, cx in [(1, 126), (2, 167), (3, 145)]:
    xr, _ = aref(4, c)
    ann.append(dict(xref=xr, yref="paper", x=cx / PW, y=-(608 - (H - MB)) / (H - MT - MB),
                    text="Energy (eV)", showarrow=False, xanchor="center", yanchor="middle",
                    font=dict(family=FONT, size=18, color="black")))
ann.append(dict(xref="paper", yref="paper", x=(22 - ML) / (W - ML - MR),
                y=1 - (500 - MT) / (H - MT - MB), text="PDOS (1/eV)", textangle=-90,
                showarrow=False, xanchor="center", yanchor="middle",
                font=dict(family=FONT, size=19, color="black")))

# legend inside panel (j)
shapes = []
xr, yr = aref(4, 1)
for k, (name, color) in enumerate(zip(legend_names, [BLUE, RED, BLACK])):
    ly = 1 - (15 + 18 * k) / PH
    shapes.append(dict(type="line", xref=xr, yref=yr, x0=126 / PW, x1=158 / PW,
                       y0=ly, y1=ly, line=dict(color=color, width=2)))
    ann.append(dict(xref=xr, yref=yr, x=161 / PW, y=ly, text=name, showarrow=False,
                    xanchor="left", yanchor="middle",
                    font=dict(family=FONT, size=12, color="black")))
shapes.append(dict(type="rect", xref=xr, yref=yr, x0=122 / PW, x1=170 / PW,
                   y0=1 - 92 / PH, y1=1 - 79 / PH, fillcolor=GRAY, line=dict(width=0)))
ann.append(dict(xref=xr, yref=yr, x=175 / PW, y=1 - 90 / PH, text=bulk_name,
                showarrow=False, xanchor="left", yanchor="middle",
                font=dict(family=FONT, size=12, color="black")))

for s in shapes:
    fig.add_shape(**s)

fig.update_layout(width=W, height=H, margin=dict(l=ML, r=MR, t=MT, b=MB),
                  paper_bgcolor="white", plot_bgcolor="white", annotations=list(fig.layout.annotations) + ann,
                  font=dict(family=FONT, color="black"), showlegend=False)

fig.write_html("out.html")
